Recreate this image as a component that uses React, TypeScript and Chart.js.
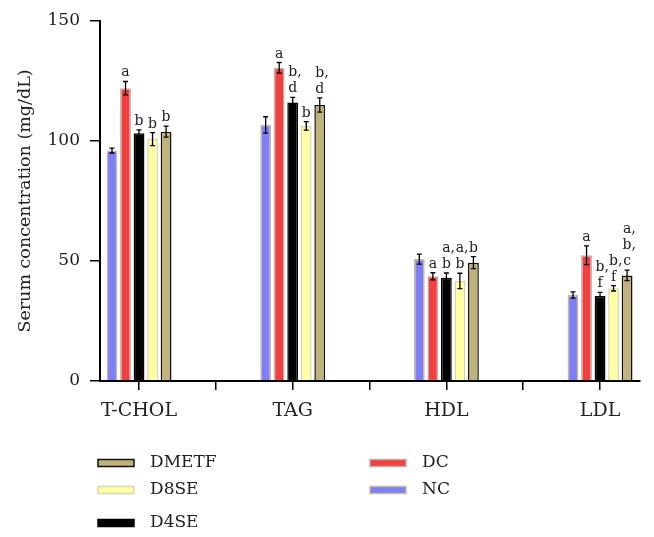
import React, { useEffect, useRef } from "react";
import { Chart, registerables } from "chart.js";

Chart.register(...registerables);

const categories = ["T-CHOL", "TAG", "HDL", "LDL"];
const seriesNames = ["NC", "DC", "D4SE", "D8SE", "DMETF"];

const ncValues = [96, 106.7, 50.8, 35.8];
const ncErrors = [1, 3.4, 2.1, 1.3];
const dcValues = [122, 130.5, 43.6, 52.4];
const dcErrors = [2.8, 2.2, 1.5, 3.9];
const d4seValues = [103.2, 116, 43, 35.4];
const d4seErrors = [1.4, 2.2, 2.0, 1.5];
const d8seValues = [100.8, 106.3, 41.7, 38.6];
const d8seErrors = [2.7, 1.8, 3.2, 1.1];
const dmetfValues = [103.9, 115, 49.3, 44];
const dmetfErrors = [2.3, 3.0, 2.5, 2.2];

const ncLetters = ["", "", "", ""];
const dcLetters = ["a", "a", "a", "a"];
const d4seLetters = ["b", "b,\nd", "a,\nb", "b,\nf"];
const d8seLetters = ["b", "b", "a,\nb", "b,\nf"];
const dmetfLetters = ["b", "b,\nd", "b", "a,\nb,\nc"];

const yTicks = [0, 50, 100, 150];
const xTickValues = [1, 1.5, 2, 2.5, 3, 3.5, 4];

const allValues = [ncValues, dcValues, d4seValues, d8seValues, dmetfValues];
const allErrors = [ncErrors, dcErrors, d4seErrors, d8seErrors, dmetfErrors];
const allLetters = [ncLetters, dcLetters, d4seLetters, d8seLetters, dmetfLetters];

const fills = ["#7f7ff5", "#ef4141", "#000000", "#ffffa3", "#bfb27b"];
const borders = ["#c9b99a", "#c4aaa2", "#000000", "#d9d5b3", "#111111"];

const FONT = "'DejaVu Serif', serif";

const errorBarPlugin = {
  id: "errorBars",
  afterDatasetsDraw(chart: any) {
    const ctx = chart.ctx;
    const yScale = chart.scales.y;
    ctx.save();
    chart.data.datasets.forEach((ds: any, di: number) => {
      const meta = chart.getDatasetMeta(di);
      meta.data.forEach((bar: any, i: number) => {
        const v = allValues[di][i];
        const e = allErrors[di][i];
        const top = yScale.getPixelForValue(v + e);
        const bot = yScale.getPixelForValue(v - e);
        ctx.strokeStyle = "#000";
        ctx.lineWidth = 1.3;
        ctx.beginPath();
        ctx.moveTo(bar.x, top);
        ctx.lineTo(bar.x, bot);
        ctx.moveTo(bar.x - 2.5, top);
        ctx.lineTo(bar.x + 2.5, top);
        ctx.moveTo(bar.x - 2.5, bot);
        ctx.lineTo(bar.x + 2.5, bot);
        ctx.stroke();
        const label = allLetters[di][i];
        if (label) {
          const lines = label.split("\n");
          ctx.fillStyle = "#222";
          ctx.font = `14px ${FONT}`;
          ctx.textAlign = "left";
          ctx.textBaseline = "alphabetic";
          const n = lines.length;
          lines.forEach((ln: string, li: number) => {
            const w0 = ctx.measureText(ln[0]).width;
            const yy = top - 5 - (n - 1 - li) * 16;
            ctx.fillText(ln, bar.x - w0 / 2, yy);
          });
        }
      });
    });
    ctx.restore();
  },
};

const legendItems = [
  { si: 4, col: 0, row: 0 },
  { si: 3, col: 0, row: 1 },
  { si: 2, col: 0, row: 2 },
  { si: 1, col: 1, row: 0 },
  { si: 0, col: 1, row: 1 },
];
const legendColX = [98, 370];
const legendRowY = [463, 490, 523];

const legendPlugin = {
  id: "customLegend",
  afterDraw(chart: any) {
    const ctx = chart.ctx;
    ctx.save();
    ctx.beginPath();
    ctx.rect(0, 0, chart.width, 529);
    ctx.clip();
    legendItems.forEach((it) => {
      const x = legendColX[it.col];
      const y = legendRowY[it.row];
      ctx.fillStyle = fills[it.si];
      ctx.fillRect(x, y - 3.5, 36, 7);
      ctx.strokeStyle = borders[it.si];
      ctx.lineWidth = 1.5;
      ctx.strokeRect(x, y - 3.5, 36, 7);
      ctx.fillStyle = "#222";
      ctx.font = `17px ${FONT}`;
      ctx.textAlign = "left";
      ctx.textBaseline = "middle";
      ctx.fillText(seriesNames[it.si], x + 52, y);
    });
    ctx.restore();
  },
};

export default function App() {
  const ref = useRef<HTMLCanvasElement>(null);
  useEffect(() => {
    if (!ref.current) return;
    const chart = new Chart(ref.current, {
      type: "bar",
      data: {
        datasets: seriesNames.map((name, si) => ({
          label: name,
          data: allValues[si].map((v, i) => ({ x: i + 1, y: v })),
          backgroundColor: fills[si],
          borderColor: borders[si],
          borderWidth: 1.5,
          categoryPercentage: 0.88,
          barPercentage: 0.8,
        })),
      },
      options: {
        animation: false,
        responsive: false,
        layout: { padding: { top: 21, right: 14, left: 0, bottom: 0 } },
        plugins: { legend: { display: false }, tooltip: { enabled: false } },
        scales: {
          x: {
            type: "linear",
            min: 0.746,
            max: 4.26,
            offset: false,
            afterBuildTicks: (scale: any) => {
              scale.ticks = xTickValues.map((v) => ({ value: v }));
            },
            afterFit: (scale: any) => {
              scale.height = 537 - 381;
            },
            ticks: {
              autoSkip: false,
              maxRotation: 0,
              padding: 10,
              color: "#222",
              font: { family: FONT, size: 19 },
              callback: (v: any) => (Number.isInteger(v) ? categories[v - 1] : ""),
            },
            grid: {
              offset: false,
              drawOnChartArea: false,
              drawTicks: true,
              tickLength: 9,
              color: "#000",
              lineWidth: 1.5,
            },
            border: { display: true, color: "#000", width: 2 },
          },
          y: {
            min: 0,
            max: 150,
            afterBuildTicks: (scale: any) => {
              scale.ticks = yTicks.map((v) => ({ value: v }));
            },
            afterFit: (scale: any) => {
              scale.width = 100;
            },
            ticks: {
              padding: 10,
              color: "#222",
              font: { family: FONT, size: 17 },
            },
            grid: {
              drawOnChartArea: false,
              drawTicks: true,
              tickLength: 10,
              color: "#000",
              lineWidth: 1.5,
            },
            border: { display: true, color: "#000", width: 2 },
            title: {
              display: true,
              text: "Serum concentration (mg/dL)",
              color: "#222",
              font: { family: FONT, size: 17.5 },
              padding: { top: 15, bottom: 0 },
            },
          },
        },
      },
      plugins: [errorBarPlugin, legendPlugin],
    } as any);
    return () => chart.destroy();
  }, []);
  return (
    <div style={{ position: "absolute", left: 0, top: 0, width: 654, height: 537, background: "#fff" }}>
      <canvas ref={ref} width={654} height={537} style={{ display: "block", width: 654, height: 537 }} />
    </div>
  );
}
